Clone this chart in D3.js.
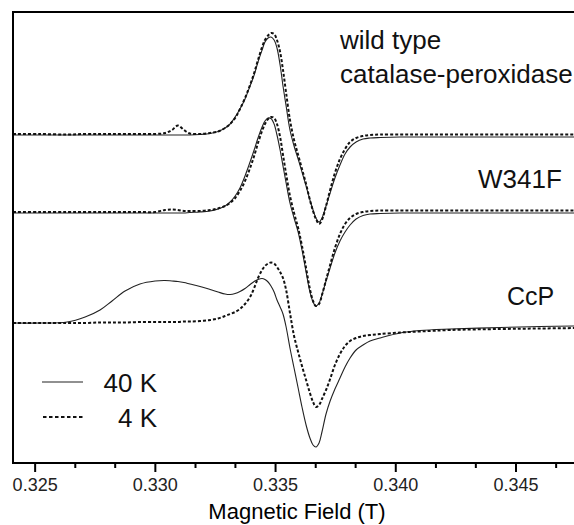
<!DOCTYPE html>
<html><head><meta charset="utf-8">
<script src="https://cdn.jsdelivr.net/npm/d3@7"></script>
<style>
html,body{margin:0;padding:0;background:#fff;}
svg{display:block;font-family:"Liberation Sans",Arial,sans-serif;}
</style></head>
<body><svg id="c" width="574" height="525"></svg>
<script>
// Magnetic field (T)
const field = [0.32410,0.32522,0.32635,0.32710,0.32772,0.32822,0.32876,0.32938,0.33001,0.33042,
 0.33071,0.33096,0.33121,0.33146,0.33188,0.33230,0.33263,0.33292,0.33313,0.33334,
 0.33354,0.33375,0.33396,0.33413,0.33429,0.33446,0.33458,0.33471,0.33483,0.33496,
 0.33508,0.33521,0.33533,0.33546,0.33562,0.33579,0.33596,0.33612,0.33629,0.33645,
 0.33658,0.33670,0.33683,0.33695,0.33712,0.33729,0.33749,0.33770,0.33791,0.33812,
 0.33837,0.33866,0.33895,0.33937,0.34020,0.34103,0.34228,0.34436,0.34602,0.34760];

// EPR signal (arbitrary units, traces stacked with offsets)
const wt40 = [328,328,328,328,328,328,328,328,328,328,
 328,328,328,328,328.5,329.5,331.5,335,339,346,
 354,364,377,388,401,413,421,425,426,423,
 415,398,377,357,333,317,304,291,277,263,
 253,245,241,245,257,270,285,298,309,316,
 321,324,325,325.5,326,326,326,326,326,326];
const wt4 = [329,329,328.5,329,329,329,329,329,329,330,
 333,337.5,333,329.5,329,330,331.5,335,339,345,
 354,365,378,390,403,416,423,427.5,430,429,
 423,411,393,370,343,323,308,294,279,263,
 252,244,239,243,257,273,290,304,314,321,
 325,327,328,328.5,328.5,328.5,328.5,328.5,328.5,328.5];
const w341f40 = [250,250,250,250,250,250,250,250,250,250,
 250,250,250,250.5,251,252,254,257,261,267,
 275,287,301,313,325,336,342,345,344.5,339,
 328,313,297,280,260,245,231,213,191,171,
 161,157,160,168,182,195,210,222,231,238,
 244,247.5,249,249.5,250,250,250,250,250,250];
const w341f4 = [251,251,251,251,251,251,251,251,251,253,
 253.5,253,252,252,252,253,254.5,257,260,265,
 272,282,295,307,320,332,339,344,346,345,
 339,326,308,289,267,250,235,217,195,174,
 162,157,159,168,183,198,215,229,239,245,
 249,251,252,252.5,252.5,252.5,252.5,252.5,252.5,252.5];
const ccp40 = [140,140,141,146,153,162,172,179,182,182.5,
 182,181.5,180.5,179,176.5,173.5,171,169,168.5,169.5,
 171.5,174.5,178.5,181.5,183.5,184.5,183.5,181,177,171,
 163,156,149,136,115,95,75,56,38,25,
 18,16,20,31,49,62,74,85,96,105,
 113,118,122,125,130,132.5,134,135.5,136.5,137];
const ccp4 = [140,140,140,140,140.5,140.5,140.5,141,141,141,
 141,141,141.5,141.5,142,143,144.5,147,149,151,
 154,159,166,175,185,193,197,199.5,200.5,199.5,
 196,191,185,173,150,127,111,97,83,70,
 61,56,58,64,73,84,98,109,117,122,
 125,127,128,129,130.5,131.5,133,134,134.5,135];

const majorTicks = [0.325,0.330,0.335,0.340,0.345];
const minorTicks = [0.32667,0.32833,0.33167,0.33333,0.33667,0.33833,0.34167,0.34333,0.34667];
const sampleLabels = ["wild type","catalase-peroxidase","W341F","CcP"];
const legendLabels = ["40 K","4 K"];
const xTitle = "Magnetic Field (T)";

const svg = d3.select("#c");
const L = 13, T = 12, R = 578, B = 463;
const x = d3.scaleLinear().domain([0.3241, 0.3476]).range([L, R]);
const y = d3.scaleLinear().domain([0, 451]).range([B, T]);

svg.append("defs").append("clipPath").attr("id","clip")
  .append("rect").attr("x",L).attr("y",T).attr("width",R-L).attr("height",B-T);

const line = d3.line().x(d=>x(d[0])).y(d=>y(d[1])).curve(d3.curveCatmullRom.alpha(0.5));
const g = svg.append("g").attr("clip-path","url(#clip)");
const solidSeries = [wt40, w341f40, ccp40];
const dotSeries = [wt4, w341f4, ccp4];
solidSeries.forEach(s=>{
  g.append("path").attr("d", line(field.map((f,i)=>[f,s[i]])))
   .attr("fill","none").attr("stroke","#222").attr("stroke-width",1.1);
});
dotSeries.forEach(s=>{
  g.append("path").attr("d", line(field.map((f,i)=>[f,s[i]])))
   .attr("fill","none").attr("stroke","#111").attr("stroke-width",2)
   .attr("stroke-dasharray","3,2");
});

// frame
svg.append("rect").attr("x",L).attr("y",T).attr("width",R-L).attr("height",B-T)
  .attr("fill","none").attr("stroke","#000").attr("stroke-width",2);

// axis
const ax = svg.append("g").attr("transform",`translate(0,${B})`)
  .call(d3.axisBottom(x).tickValues(majorTicks).tickSize(9).tickPadding(6).tickFormat(d3.format(".3f")));
ax.select(".domain").remove();
ax.selectAll(".tick line").attr("stroke","#000").attr("stroke-width",2);
ax.selectAll(".tick text").attr("font-size",18).attr("fill","#222")
  .attr("font-family","Liberation Sans, Arial, sans-serif");
const axm = svg.append("g").attr("transform",`translate(0,${B})`)
  .call(d3.axisBottom(x).tickValues(minorTicks).tickSize(5).tickFormat(""));
axm.select(".domain").remove();
axm.selectAll(".tick line").attr("stroke","#000").attr("stroke-width",2);

svg.append("text").attr("x",297).attr("y",519).attr("text-anchor","middle")
  .attr("font-size",22).attr("fill","#000").text(xTitle);

// sample labels
const lab = (t,xx,yy,fs)=>svg.append("text").attr("x",xx).attr("y",yy)
  .attr("font-size",fs).attr("fill","#111").text(t);
lab(sampleLabels[0],340,49,26);
lab(sampleLabels[1],340,83,26);
lab(sampleLabels[2],478,188,26);
lab(sampleLabels[3],507,305,25);

// legend
svg.append("line").attr("x1",42).attr("x2",83).attr("y1",382).attr("y2",382)
  .attr("stroke","#222").attr("stroke-width",1.1);
svg.append("line").attr("x1",43).attr("x2",85).attr("y1",417).attr("y2",417)
  .attr("stroke","#111").attr("stroke-width",2).attr("stroke-dasharray","3.5,2.5");
svg.append("text").attr("x",157).attr("y",392).attr("text-anchor","end")
  .attr("font-size",26).attr("fill","#111").text(legendLabels[0]);
svg.append("text").attr("x",157).attr("y",427).attr("text-anchor","end")
  .attr("font-size",26).attr("fill","#111").text(legendLabels[1]);
</script></body></html>
